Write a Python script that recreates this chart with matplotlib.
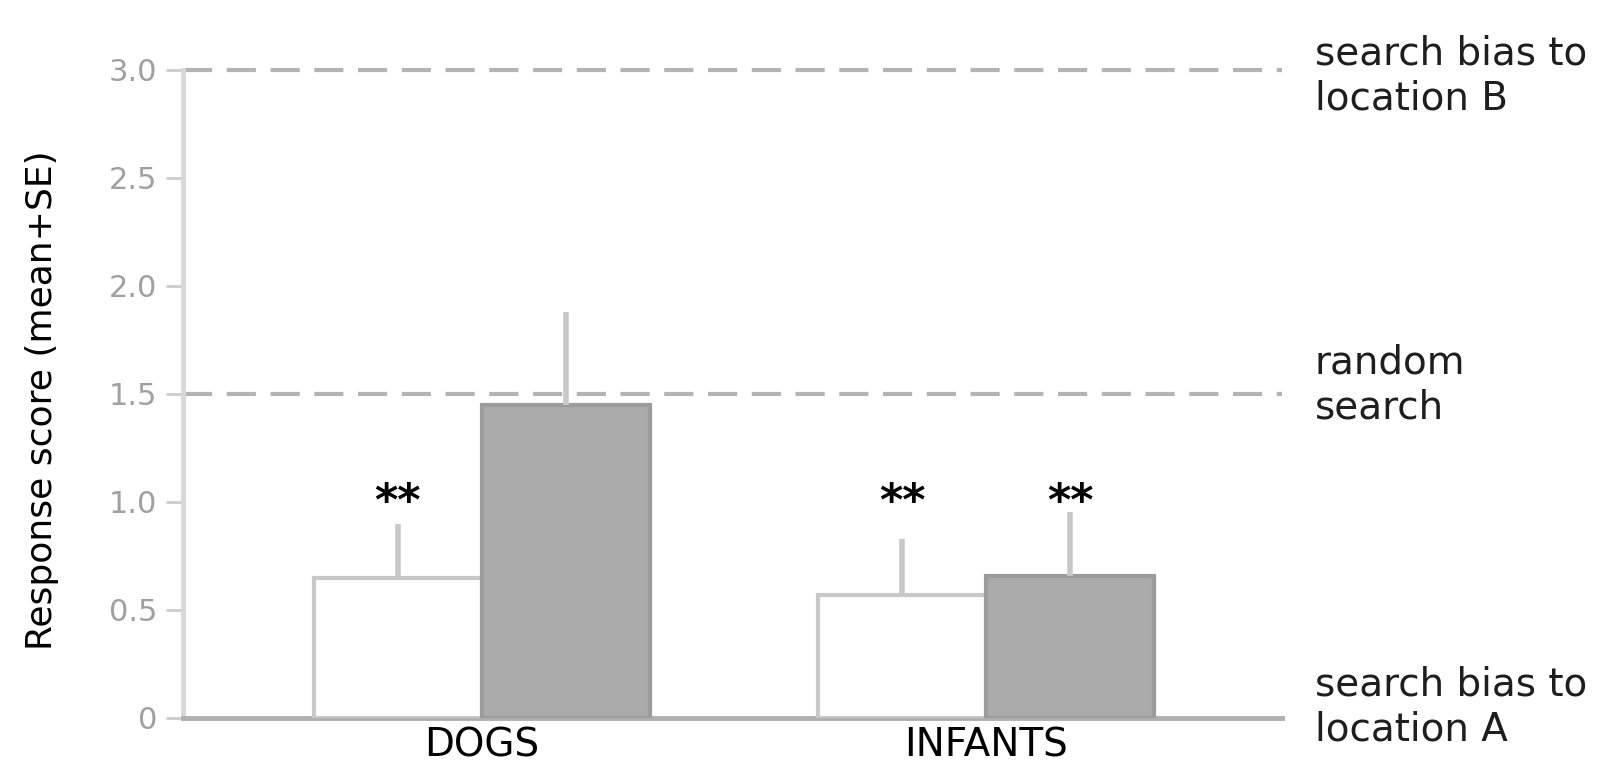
import matplotlib
matplotlib.use("Agg")
import matplotlib.pyplot as plt
import numpy as np

plt.rcParams["font.family"] = ["DejaVu Sans"]

# data
groups = ["DOGS", "INFANTS"]
visible_mean = [0.65, 0.57]
visible_se = [0.25, 0.26]
invisible_mean = [1.45, 0.655]
invisible_se = [0.43, 0.30]
stars_visible = ["**", "**"]
stars_invisible = ["", "**"]
yticks = [0, 0.5, 1.0, 1.5, 2.0, 2.5, 3.0]
ytick_labels = ["0", "0.5", "1.0", "1.5", "2.0", "2.5", "3.0"]
ref_levels = [3.0, 1.5, 0.0]
ref_labels = ["search bias to\nlocation B", "random\nsearch", "search bias to\nlocation A"]

fig = plt.figure(figsize=(16.08, 7.66), dpi=100)
ax = fig.add_axes([0.1135, 0.0627, 0.6835, 0.846])

x = np.arange(len(groups))
w = 0.333
err_kw = dict(ecolor="#c8c8c8", elinewidth=4, capsize=0)

ax.bar(x - w / 2, visible_mean, w, color="white", edgecolor="#c8c8c8", linewidth=3,
       yerr=[np.zeros(len(x)), visible_se], error_kw=err_kw, zorder=3)
ax.bar(x + w / 2, invisible_mean, w, color="#ababab", edgecolor="#9c9c9c", linewidth=3,
       yerr=[np.zeros(len(x)), invisible_se], error_kw=err_kw, zorder=3)

# significance stars
for xi, st in zip(x - w / 2, stars_visible):
    if st:
        ax.text(xi, 0.94, st, ha="center", va="baseline", fontsize=32, fontweight="bold")
for xi, st in zip(x + w / 2, stars_invisible):
    if st:
        ax.text(xi, 0.94, st, ha="center", va="baseline", fontsize=32, fontweight="bold")

for lvl in ref_levels[:2]:
    ax.axhline(lvl, color="#b4b4b4", linestyle=(0, (7, 3.5)), linewidth=3, clip_on=False, zorder=1)

# labels to the right of the reference lines (small vertical nudges in pixels)
nudges = [-6, 9, 11]
for lvl, lab, dy in zip(ref_levels, ref_labels, nudges):
    ax.annotate(lab, xy=(1.03, lvl), xycoords=ax.get_yaxis_transform(),
                xytext=(0, dy), textcoords="offset pixels", ha="left", va="center",
                fontsize=28, color="#1e1e1e", annotation_clip=False, linespacing=1.26)

ax.set_xlim(-0.593, 1.585)
ax.set_ylim(0, 3.0)
ax.set_yticks(yticks)
ax.set_yticklabels(ytick_labels)
ax.set_xticks(x)
ax.set_xticklabels(groups, fontsize=28)
ax.tick_params(axis="x", length=0, pad=6)
ax.tick_params(axis="y", length=12, width=2, color="#cccccc", labelcolor="#a0a0a0",
               labelsize=22, pad=6)
ax.set_ylabel("Response score (mean+SE)", fontsize=26)
ax.yaxis.set_label_coords(-0.112, 0.49)

for sp in ["top", "right"]:
    ax.spines[sp].set_visible(False)
ax.spines["left"].set_color("#d8d8d8")
ax.spines["left"].set_linewidth(3.5)
ax.spines["bottom"].set_color("#b0b0b0")
ax.spines["bottom"].set_linewidth(3.5)

fig.savefig("out.png", dpi=100)
